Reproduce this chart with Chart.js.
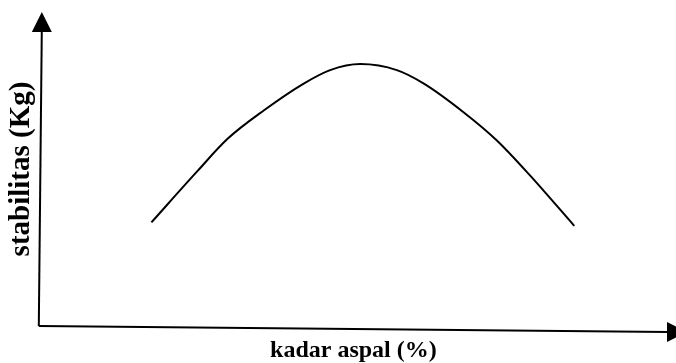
<!DOCTYPE html>
<html>
<head>
<meta charset="utf-8">
<script src="https://cdn.jsdelivr.net/npm/chart.js@4"></script>
<style>
  html, body { margin: 0; padding: 0; background: #fff; }
  #wrap { width: 676px; height: 363px; position: relative; }
</style>
</head>
<body>
<div id="wrap"><canvas id="c" width="676" height="363"></canvas></div>
<script>
// Schematic curve, arbitrary units
const kadarAspal = [1.79, 2.52, 3.00, 3.58, 4.21, 4.63, 5.11, 5.69, 6.12, 6.75, 7.28, 7.81, 8.51];
const stabilitas = [3.30, 4.93, 5.96, 6.87, 7.72, 8.15, 8.34, 8.15, 7.72, 6.81, 5.91, 4.79, 3.19];
const xTitle = 'kadar aspal (%)';
const yTitle = 'stabilitas (Kg)';

const points = kadarAspal.map((x, i) => ({ x: x, y: stabilitas[i] }));

const arrowAxes = {
  id: 'arrowAxes',
  afterDraw(chart) {
    const { ctx, chartArea: a } = chart;
    ctx.save();
    ctx.strokeStyle = '#000';
    ctx.fillStyle = '#000';
    ctx.lineWidth = 2;
    const ox = a.left, oy = a.bottom;
    const yTipX = a.left + 3, yTipY = a.top;
    const xEndX = a.right, xEndY = a.bottom + 6;
    // y axis
    ctx.beginPath();
    ctx.moveTo(ox, oy);
    ctx.lineTo(yTipX, yTipY + 18);
    ctx.stroke();
    ctx.beginPath();
    ctx.moveTo(yTipX, yTipY);
    ctx.lineTo(yTipX - 10, yTipY + 20);
    ctx.lineTo(yTipX + 10, yTipY + 20);
    ctx.closePath();
    ctx.fill();
    // x axis
    ctx.beginPath();
    ctx.moveTo(ox, oy);
    ctx.lineTo(xEndX, xEndY);
    ctx.stroke();
    ctx.beginPath();
    ctx.moveTo(xEndX - 1, xEndY - 10);
    ctx.lineTo(xEndX + 19, xEndY);
    ctx.lineTo(xEndX - 1, xEndY + 10);
    ctx.closePath();
    ctx.fill();
    ctx.restore();
  }
};

new Chart(document.getElementById('c'), {
  type: 'line',
  data: {
    datasets: [{
      data: points,
      borderColor: '#000',
      borderWidth: 2,
      pointRadius: 0,
      fill: false,
      tension: 0.4,
      cubicInterpolationMode: 'monotone'
    }]
  },
  options: {
    responsive: false,
    animation: false,
    events: [],
    layout: { padding: { left: 1, right: 8, top: 12, bottom: 0 } },
    plugins: { legend: { display: false }, tooltip: { enabled: false } },
    scales: {
      x: {
        type: 'linear', min: 0, max: 10,
        grid: { display: false, drawTicks: false }, border: { display: false },
        ticks: { display: false },
        title: {
          display: true, text: xTitle, color: '#000',
          font: { family: 'Liberation Serif', size: 24, weight: 'bold', lineHeight: 1.0 },
          padding: { top: 13, bottom: 0 }
        }
      },
      y: {
        type: 'linear', min: 0, max: 10,
        grid: { display: false, drawTicks: false }, border: { display: false },
        ticks: { display: false },
        title: {
          display: true, text: yTitle, color: '#000',
          font: { family: 'Liberation Serif', size: 29, weight: 'bold', lineHeight: 1.2 },
          padding: { top: 3, bottom: 0 }
        }
      }
    }
  },
  plugins: [arrowAxes]
});
</script>
</body>
</html>
